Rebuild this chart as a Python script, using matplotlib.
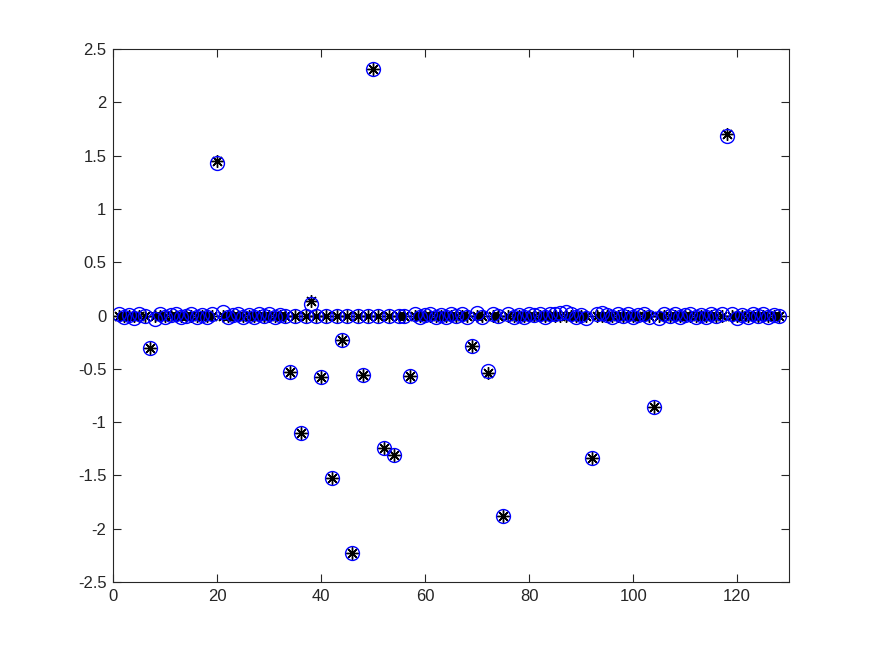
import numpy as np
import matplotlib
matplotlib.use("Agg")
import matplotlib.pyplot as plt
from matplotlib.ticker import FormatStrFormatter

plt.rcParams['font.family'] = ['Liberation Sans', 'DejaVu Sans']
plt.rcParams['axes.unicode_minus'] = False

# original sparse signal: positions and amplitudes of the nonzero entries
n = 128
spike_idx = [7, 20, 34, 36, 38, 40, 42, 44, 46, 48, 50, 52, 54, 57, 69, 72, 75, 92, 104, 118]
spike_val = [-0.30, 1.45, -0.53, -1.10, 0.14, -0.58, -1.52, -0.23, -2.23, -0.56,
             2.31, -1.24, -1.31, -0.57, -0.29, -0.54, -1.88, -1.34, -0.86, 1.70]

# recovered signal
recovered = [
    0.01, -0.01, 0.005, -0.02, 0.01, -0.005, -0.30, -0.03, 0.01, -0.01,
    0.005, 0.01, -0.01, 0.0, 0.01, -0.015, 0.005, -0.01, 0.01, 1.43,
    0.035, -0.01, 0.005, 0.01, -0.01, 0.005, -0.015, 0.01, -0.005, 0.01,
    -0.01, 0.005, 0.0, -0.53, 0.0, -1.10, 0.0, 0.11, 0.0, -0.58,
    0.0, -1.52, 0.0, -0.23, 0.0, -2.23, 0.0, -0.56, 0.0, 2.31,
    0.0, -1.24, 0.0, -1.31, 0.0, 0.0, -0.57, 0.01, -0.01, 0.005,
    0.01, -0.01, 0.005, -0.01, 0.015, -0.005, 0.01, -0.01, -0.29, 0.025,
    -0.01, -0.52, 0.01, -0.005, -1.88, 0.01, -0.01, 0.005, -0.01, 0.01,
    0.005, 0.015, -0.01, 0.01, 0.015, 0.025, 0.03, 0.01, -0.01, 0.005,
    -0.025, -1.34, 0.01, 0.025, 0.005, -0.01, 0.01, -0.005, 0.01, -0.01,
    0.005, 0.01, -0.01, -0.86, -0.025, 0.01, -0.005, 0.01, -0.01, 0.005,
    0.01, -0.01, 0.005, -0.01, 0.01, -0.005, 0.01, 1.68, 0.01, -0.025,
    0.005, -0.01, 0.01, -0.005, 0.01, -0.01, 0.005, 0.0,
]

original = np.zeros(n)
original[np.array(spike_idx) - 1] = spike_val
t = np.arange(1, n + 1)

fig = plt.figure(figsize=(8.72, 6.54), dpi=100)
ax = fig.add_axes([0.13, 0.11, 0.775, 0.815])

ax.plot(t, original, linestyle='none', marker=(8, 2, 0), color='k',
        markersize=9, markeredgewidth=1.0)
ax.plot(t, recovered, linestyle='none', marker='o', markerfacecolor='none',
        markeredgecolor='b', markersize=10, markeredgewidth=1.0)

ax.set_xlim(0, 130)
ax.set_ylim(-2.5, 2.5)
ax.set_xticks(np.arange(0, 121, 20))
ax.set_yticks(np.arange(-2.5, 2.51, 0.5))
ax.yaxis.set_major_formatter(FormatStrFormatter('%g'))

gray = '#262626'
for s in ax.spines.values():
    s.set_color(gray)
    s.set_linewidth(0.8)
ax.tick_params(direction='in', top=True, right=True, length=6, width=0.8,
               colors=gray, labelsize=12, pad=5)

fig.savefig('out.png', dpi=100)
